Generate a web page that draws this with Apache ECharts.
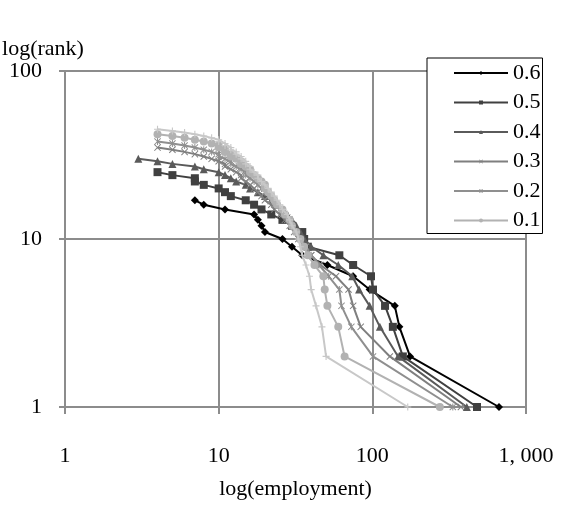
<!DOCTYPE html>
<html>
<head>
<meta charset="utf-8">
<title>Rank-size distribution</title>
<script src="https://cdn.jsdelivr.net/npm/echarts@6/dist/echarts.min.js"></script>
<style>
  html, body { margin: 0; padding: 0; background: #fff; }
  #chart { width: 567px; height: 506px; }
</style>
</head>
<body>
<div id="chart"></div>
<script>
// Tick labels of the two logarithmic axes (indexed by decade)
const xTickLabels = ['1', '10', '100', '1, 000'];
const yTickLabels = ['1', '10', '100'];

// Series names, in legend order
const seriesNames = ['0.6', '0.5', '0.4', '0.3', '0.2', '0.1', '0.0'];
const legendNames = ['0.6', '0.5', '0.4', '0.3', '0.2', '0.1'];

// Employment and rank for each threshold
const emp06  = [7, 8, 11, 17, 18, 19, 20, 26, 30, 35, 51, 75, 96, 140, 150, 176, 667];
const rank06 = [17, 16, 15, 14, 13, 12, 11, 10, 9, 8, 7, 6, 5, 4, 3, 2, 1];

const emp05  = [4, 5, 7, 7, 8, 10, 11, 12, 15, 17, 19, 22, 26, 30, 35, 36, 38, 61, 75, 98, 101, 121, 136, 158, 480];
const rank05 = [25, 24, 23, 22, 21, 20, 19, 18, 17, 16, 15, 14, 13, 12, 11, 10, 9, 8, 7, 6, 5, 4, 3, 2, 1];

const emp04  = [3, 4, 5, 7, 8, 10, 11, 12, 13, 15, 16, 18, 20, 22, 24, 26, 28, 30, 32, 34, 36, 40, 48, 60, 74, 82, 96, 112, 147, 412];
const rank04 = [30, 29, 28, 27, 26, 25, 24, 23, 22, 21, 20, 19, 18, 17, 16, 15, 14, 13, 12, 11, 10, 9, 8, 7, 6, 5, 4, 3, 2, 1];

const emp03  = [4, 5, 6, 7, 8, 9, 10, 11, 11, 12, 13, 14, 14, 15, 16, 17, 18, 19, 20, 22, 23, 25, 27, 29, 31, 33, 36, 40, 46, 58, 70, 75, 84, 130, 377];
const rank03 = [35, 34, 33, 32, 31, 30, 29, 28, 27, 26, 25, 24, 23, 22, 21, 20, 19, 18, 17, 16, 15, 14, 13, 12, 11, 10, 9, 8, 7, 6, 5, 4, 3, 2, 1];

const emp02  = [4, 5, 6, 7, 8, 9, 10, 10, 11, 12, 12, 13, 14, 15, 15, 16, 17, 18, 19, 20, 21, 22, 23, 25, 26, 28, 30, 32, 34, 37, 40, 45, 52, 61, 63, 73, 101, 334];
const rank02 = [38, 37, 36, 35, 34, 33, 32, 31, 30, 29, 28, 27, 26, 25, 24, 23, 22, 21, 20, 19, 18, 17, 16, 15, 14, 13, 12, 11, 10, 9, 8, 7, 6, 5, 4, 3, 2, 1];

const emp01  = [4, 5, 6, 7, 8, 9, 10, 10, 11, 11, 12, 12, 13, 14, 14, 15, 16, 16, 17, 18, 19, 20, 20, 21, 22, 23, 24, 26, 27, 29, 30, 32, 34, 36, 38, 42, 48, 49, 51, 60, 66, 275];
const rank01 = [42, 41, 40, 39, 38, 37, 36, 35, 34, 33, 32, 31, 30, 29, 28, 27, 26, 25, 24, 23, 22, 21, 20, 19, 18, 17, 16, 15, 14, 13, 12, 11, 10, 9, 8, 7, 6, 5, 4, 3, 2, 1];

const emp00  = [4, 5, 6, 7, 8, 9, 10, 10, 11, 11, 12, 12, 13, 13, 14, 14, 15, 15, 16, 16, 17, 18, 18, 19, 20, 21, 22, 23, 24, 25, 26, 28, 29, 30, 32, 33, 34, 35, 37, 39, 40, 43, 47, 50, 170];
const rank00 = [45, 44, 43, 42, 41, 40, 39, 38, 37, 36, 35, 34, 33, 32, 31, 30, 29, 28, 27, 26, 25, 24, 23, 22, 21, 20, 19, 18, 17, 16, 15, 14, 13, 12, 11, 10, 9, 8, 7, 6, 5, 4, 3, 2, 1];

const employment = [emp06, emp05, emp04, emp03, emp02, emp01, emp00];
const ranks = [rank06, rank05, rank04, rank03, rank02, rank01, rank00];

// Marker shapes
const SYM_X = 'path://M0,1 L1,0 L5,4 L9,0 L10,1 L6,5 L10,9 L9,10 L5,6 L1,10 L0,9 L4,5 Z';
const SYM_STAR = 'path://M0,1 L1,0 L5,4 L9,0 L10,1 L6,5 L10,9 L9,10 L5,6 L1,10 L0,9 L4,5 Z M4.3,0 H5.7 V10 H4.3 Z';
const SYM_PLUS = 'path://M4.2,0 H5.8 V4.2 H10 V5.8 H5.8 V10 H4.2 V5.8 H0 V4.2 H4.2 Z';

const styles = [
  { color: '#000000', symbol: 'diamond',  size: 8 },
  { color: '#404040', symbol: 'rect',     size: 8 },
  { color: '#5a5a5a', symbol: 'triangle', size: 8 },
  { color: '#7f7f7f', symbol: SYM_X,      size: 7 },
  { color: '#8f8f8f', symbol: SYM_STAR,   size: 7 },
  { color: '#b2b2b2', symbol: 'circle',   size: 8 },
  { color: '#c8c8c8', symbol: SYM_PLUS,   size: 7 }
];

const FONT = '"Liberation Serif", "Times New Roman", serif';
const GRID_GRAY = '#8c8c8c';

const series = seriesNames.map((name, i) => ({
  name: name,
  type: 'line',
  data: employment[i].map((e, j) => [e, ranks[i][j]]),
  symbol: styles[i].symbol,
  symbolSize: styles[i].size,
  showAllSymbol: true,
  color: styles[i].color,
  lineStyle: { color: styles[i].color, width: 2 },
  itemStyle: { color: styles[i].color },
  emphasis: { disabled: true },
  z: 2 + i
}));

const chart = echarts.init(document.getElementById('chart'), null, { renderer: 'canvas' });
chart.setOption({
  animation: false,
  backgroundColor: '#ffffff',
  textStyle: { fontFamily: FONT },
  grid: { left: 65, right: 41, top: 71, bottom: 99, outerBoundsMode: 'none' },
  legend: {
    data: legendNames,
    orient: 'vertical',
    left: 427,
    top: 58,
    itemWidth: 54,
    itemHeight: 5,
    itemGap: 7.5,
    padding: [4, 2, 2, 26],
    borderColor: '#000000',
    borderWidth: 1,
    backgroundColor: '#ffffff',
    selectedMode: false,
    textStyle: { fontSize: 22, color: '#000000', fontFamily: FONT }
  },
  xAxis: {
    type: 'log',
    logBase: 10,
    min: 1,
    max: 1000,
    name: 'log(employment)',
    nameLocation: 'middle',
    nameGap: 71,
    nameTextStyle: { fontSize: 22, color: '#000000', fontFamily: FONT },
    axisLine: { show: true, lineStyle: { color: GRID_GRAY, width: 2 } },
    axisTick: { show: true, inside: false, length: 7, lineStyle: { color: GRID_GRAY, width: 2 } },
    axisLabel: {
      margin: 38,
      fontSize: 22,
      color: '#000000',
      fontFamily: FONT,
      formatter: v => xTickLabels[Math.round(Math.log10(v))]
    },
    splitLine: { show: true, lineStyle: { color: GRID_GRAY, width: 2 } },
    minorTick: { show: false },
    minorSplitLine: { show: false }
  },
  yAxis: {
    type: 'log',
    logBase: 10,
    min: 1,
    max: 100,
    name: 'log(rank)',
    nameLocation: 'end',
    nameGap: 5,
    nameTextStyle: { fontSize: 22, color: '#000000', fontFamily: FONT, align: 'center', padding: [0, 44, 0, 0] },
    axisLine: { show: true, lineStyle: { color: GRID_GRAY, width: 2 } },
    axisTick: { show: true, inside: false, length: 6, lineStyle: { color: GRID_GRAY, width: 2 } },
    axisLabel: {
      margin: 23,
      fontSize: 22,
      color: '#000000',
      fontFamily: FONT,
      formatter: v => yTickLabels[Math.round(Math.log10(v))]
    },
    splitLine: { show: true, lineStyle: { color: GRID_GRAY, width: 2 } },
    minorTick: { show: false },
    minorSplitLine: { show: false }
  },
  series: series
});
</script>
</body>
</html>
